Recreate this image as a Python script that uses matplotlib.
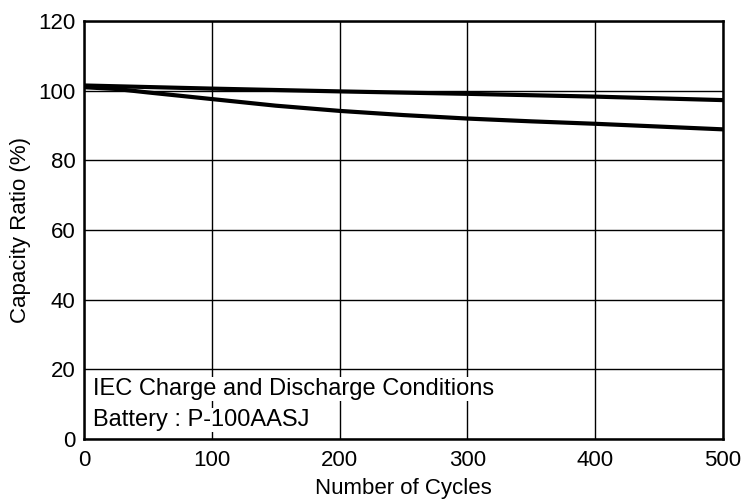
import matplotlib
matplotlib.use("Agg")
import matplotlib.pyplot as plt

# Data
cycles_upper = [0, 100, 200, 300, 400, 500]
ratio_upper = [101.5, 100.6, 99.8, 99.1, 98.3, 97.3]

cycles_lower = [0, 25, 50, 100, 150, 200, 250, 300, 350, 400, 450, 500]
ratio_lower = [101.0, 100.5, 99.5, 97.6, 95.7, 94.2, 93.0, 92.0, 91.2, 90.5, 89.7, 88.9]

x_ticks = [0, 100, 200, 300, 400, 500]
y_ticks = [0, 20, 40, 60, 80, 100, 120]

plt.rcParams['font.family'] = ['Liberation Sans', 'DejaVu Sans']

fig = plt.figure(figsize=(7.44, 5.01), dpi=100)
ax = fig.add_axes([0.1129, 0.1238, 0.859, 0.8342])

ax.plot(cycles_upper, ratio_upper, color='black', lw=3, solid_capstyle='butt', zorder=3)
ax.plot(cycles_lower, ratio_lower, color='black', lw=3, solid_capstyle='butt', zorder=3)

ax.set_xlim(0, 500)
ax.set_ylim(0, 120)
ax.set_xticks(x_ticks)
ax.set_yticks(y_ticks)
ax.tick_params(length=0, labelsize=16, colors='black')
ax.tick_params(axis='x', pad=8)
ax.tick_params(axis='y', pad=6)
ax.grid(True, color='black', lw=1)
ax.set_axisbelow(True)
for s in ax.spines.values():
    s.set_linewidth(1.8)

ax.set_xlabel('Number of Cycles', fontsize=16, labelpad=5)
ax.set_ylabel('Capacity Ratio (%)', fontsize=16, labelpad=5)

box = dict(facecolor='white', edgecolor='none', pad=0.5)
ax.text(7, 12.6, 'IEC Charge and Discharge Conditions', fontsize=17,
        va='baseline', ha='left', bbox=box, zorder=4)
ax.text(7, 3.7, 'Battery : P-100AASJ', fontsize=17,
        va='baseline', ha='left', bbox=box, zorder=4)

fig.savefig('out.png', dpi=100)
